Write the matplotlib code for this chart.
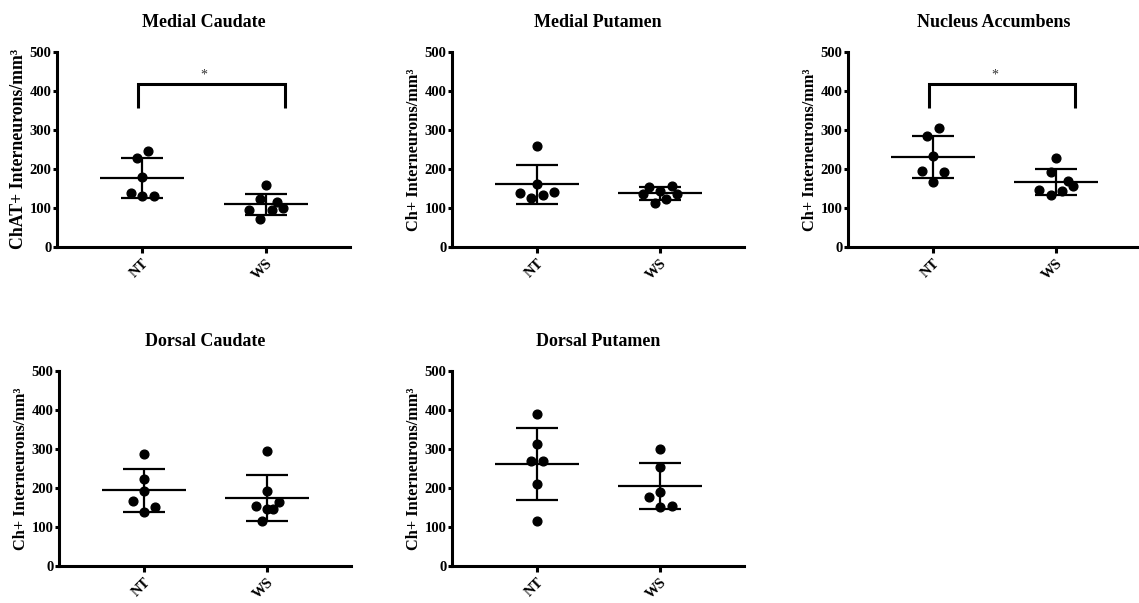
import numpy as np
import matplotlib.pyplot as plt

# Cell densities (ChAT+ interneurons / mm^3)
groups = ["NT", "WS"]

mc_nt = [246, 229, 178, 139, 130, 130]
mc_ws = [159, 123, 114, 93, 93, 99, 71]
mp_nt = [259, 160, 139, 141, 124, 133]
mp_ws = [154, 157, 144, 135, 135, 122, 111]
na_nt = [304, 283, 234, 195, 193, 166]
na_ws = [229, 192, 169, 146, 157, 143, 133]
dc_nt = [288, 222, 192, 167, 152, 138]
dc_ws = [295, 193, 154, 164, 146, 146, 116]
dp_nt = [390, 312, 270, 270, 209, 116]
dp_ws = [300, 254, 190, 177, 150, 154]

# mean and SD as drawn
mc_mean = [175.5, 108.5]
mc_sd = [51.5, 27.5]
mp_mean = [160, 137]
mp_sd = [50, 16.5]
na_mean = [230, 166.5]
na_sd = [54, 33.5]
dc_mean = [193.5, 174.5]
dc_sd = [54.5, 58.5]
dp_mean = [261.5, 205]
dp_sd = [92.5, 60]

titles = ["Medial Caudate", "Medial Putamen", "Nucleus Accumbens",
          "Dorsal Caudate", "Dorsal Putamen"]
ylabels = ["ChAT+ Interneurons/mm³"] + ["Ch+ Interneurons/mm³"] * 4
significant = [True, False, True, False, False]

# horizontal scatter slots (layout only, like GraphPad's scatter)
slots = [
    ([1, -1, 0, -2, 0, 2], [0, -1, 2, -3, 1, 3, -1]),
    ([0, 0, -3, 3, -1, 1], [-2, 2, 0, -3, 3, 1, -1]),
    ([1, -1, 0, -2, 2, 0], [0, -1, 2, -3, 3, 1, -1]),
    ([0, 0, 0, -2, 2, 0], [0, 0, -2, 2, 0, 1, -1]),
    ([0, 0, -1, 1, 0, 0], [0, 0, 0, -2, 0, 2]),
]

points = [(mc_nt, mc_ws), (mp_nt, mp_ws), (na_nt, na_ws), (dc_nt, dc_ws), (dp_nt, dp_ws)]
means = [mc_mean, mp_mean, na_mean, dc_mean, dp_mean]
sds = [mc_sd, mp_sd, na_sd, dc_sd, dp_sd]

plt.rcParams['font.family'] = ['Liberation Serif', 'DejaVu Serif']
plt.rcParams['font.weight'] = 'bold'

W, H = 1139, 603
fig = plt.figure(figsize=(W / 100, H / 100), dpi=100)

# axes rectangles in pixels: left, top, width, height
rects = [(57, 52, 293, 194.7), (452, 52, 292, 194.7), (848, 52, 292, 194.7),
         (59, 371, 292, 194.7), (452, 371, 292, 194.7)]
label_sizes = [12.8, 11.8, 11.8, 11.8, 11.8]

for i in range(5):
    l, t, w, h = rects[i]
    ax = fig.add_axes([l / W, (H - t - h) / H, w / W, h / H])
    xs = [1, 2]
    for g in range(2):
        vals = points[i][g]
        xoff = np.array(slots[i][g]) * 0.046
        ax.plot(xs[g] + xoff, vals, 'o', color='black', ms=6.3, zorder=3)
        ax.hlines(means[i][g], xs[g] - 0.34, xs[g] + 0.34, color='black', lw=1.6)
        ax.errorbar(xs[g], means[i][g], yerr=sds[i][g], fmt='none', ecolor='black',
                    elinewidth=1.6, capsize=15, capthick=1.6)

    if significant[i]:
        ax.plot([0.965, 0.965, 2.155, 2.155], [355, 418, 418, 355], color='black',
                lw=2.2, solid_capstyle='butt', solid_joinstyle='miter')
        ax.text(1.5, 440, "*", ha='center', va='center', fontsize=10,
                fontweight='normal', color='#333333')

    ax.set_xlim(0.31, 2.68)
    ax.set_ylim(0, 500)
    ax.set_yticks([0, 100, 200, 300, 400, 500])
    ax.set_xticks(xs)
    ax.set_xticklabels(groups, rotation=45, ha='right', va='top',
                       rotation_mode='anchor', fontsize=10.5, fontweight='bold')
    for lab in ax.get_yticklabels():
        lab.set_fontsize(10.5)
        lab.set_fontweight('bold')
    ax.spines['top'].set_visible(False)
    ax.spines['right'].set_visible(False)
    ax.spines['left'].set_linewidth(2.2)
    ax.spines['bottom'].set_linewidth(2.2)
    ax.tick_params(axis='y', length=3, width=2.2, pad=1)
    ax.tick_params(axis='x', length=4, width=2.2, pad=3)
    ax.set_ylabel(ylabels[i], fontsize=label_sizes[i], fontweight='bold', labelpad=2)
    ax.set_title(titles[i], fontsize=13, fontweight='bold', pad=18)

fig.savefig("out.png", dpi=100)
